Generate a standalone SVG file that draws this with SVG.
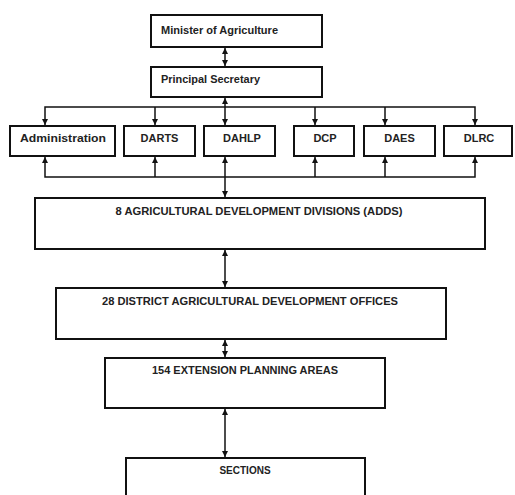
<svg xmlns="http://www.w3.org/2000/svg" width="515" height="495" viewBox="0 0 515 495">
<defs>
<marker id="ah" viewBox="0 0 10 10" refX="10" refY="5" markerWidth="6" markerHeight="6" markerUnits="userSpaceOnUse" orient="auto-start-reverse">
<path d="M0,0 L10,5 L0,10 z" fill="#111"/>
</marker>
<style>
.box{fill:#fff;stroke:#111;stroke-width:2}
.t{font-family:"Liberation Sans",Arial,sans-serif;font-weight:bold;font-size:10px;fill:#222}
.s{font-size:11px}
.c{text-anchor:middle}
.ln{fill:none;stroke:#111;stroke-width:1.5}
</style>
</defs>
<rect width="515" height="495" fill="#fff"/>
<g id="connectors">
<line class="ln" x1="225" y1="48" x2="225" y2="66" marker-start="url(#ah)" marker-end="url(#ah)"/>
<line class="ln" x1="225" y1="98" x2="225" y2="107" marker-start="url(#ah)"/>
<polyline class="ln" points="45,125 45,107 475,107 475,125" marker-start="url(#ah)" marker-end="url(#ah)"/>
<line class="ln" x1="155" y1="107" x2="155" y2="125" marker-end="url(#ah)"/>
<line class="ln" x1="225" y1="107" x2="225" y2="125" marker-end="url(#ah)"/>
<line class="ln" x1="315" y1="107" x2="315" y2="125" marker-end="url(#ah)"/>
<line class="ln" x1="385" y1="107" x2="385" y2="125" marker-end="url(#ah)"/>
<polyline class="ln" points="45,157 45,177 475,177 475,157" marker-start="url(#ah)" marker-end="url(#ah)"/>
<line class="ln" x1="155" y1="177" x2="155" y2="157" marker-end="url(#ah)"/>
<line class="ln" x1="315" y1="177" x2="315" y2="157" marker-end="url(#ah)"/>
<line class="ln" x1="385" y1="177" x2="385" y2="157" marker-end="url(#ah)"/>
<line class="ln" x1="225" y1="157" x2="225" y2="197" marker-start="url(#ah)" marker-end="url(#ah)"/>
<line class="ln" x1="225" y1="250" x2="225" y2="287" marker-start="url(#ah)" marker-end="url(#ah)"/>
<line class="ln" x1="225" y1="340" x2="225" y2="357" marker-start="url(#ah)" marker-end="url(#ah)"/>
<line class="ln" x1="225" y1="409" x2="225" y2="457" marker-start="url(#ah)" marker-end="url(#ah)"/>
</g>
<g id="minister"><rect class="box" x="151" y="15" width="171" height="32"/><text class="t s" x="161" y="34" textLength="117" lengthAdjust="spacingAndGlyphs">Minister of Agriculture</text></g>
<g id="principal"><rect class="box" x="151" y="67" width="171" height="30"/><text class="t s" x="161" y="83" textLength="99" lengthAdjust="spacingAndGlyphs">Principal Secretary</text></g>
<g id="administration"><rect class="box" x="10" y="126" width="105" height="30"/><text class="t s c" x="63" y="142" textLength="86" lengthAdjust="spacingAndGlyphs">Administration</text></g>
<g id="darts"><rect class="box" x="124" y="126" width="71" height="30"/><text class="t s c" x="159.5" y="142">DARTS</text></g>
<g id="dahlp"><rect class="box" x="204" y="126" width="71" height="30"/><text class="t s c" x="242" y="142">DAHLP</text></g>
<g id="dcp"><rect class="box" x="294" y="126" width="60" height="30"/><text class="t s c" x="325" y="142">DCP</text></g>
<g id="daes"><rect class="box" x="364" y="126" width="71" height="30"/><text class="t s c" x="399.5" y="142">DAES</text></g>
<g id="dlrc"><rect class="box" x="444" y="126" width="68" height="30"/><text class="t s c" x="479" y="142">DLRC</text></g>
<g id="adds"><rect class="box" x="35" y="198" width="450" height="51"/><text class="t c" x="259" y="215" textLength="287" lengthAdjust="spacingAndGlyphs">8 AGRICULTURAL DEVELOPMENT DIVISIONS (ADDS)</text></g>
<g id="dado"><rect class="box" x="56" y="288" width="390" height="51"/><text class="t c" x="250" y="305" textLength="296" lengthAdjust="spacingAndGlyphs">28 DISTRICT AGRICULTURAL DEVELOPMENT OFFICES</text></g>
<g id="epa"><rect class="box" x="105" y="358" width="280" height="50"/><text class="t c" x="245" y="374" textLength="186" lengthAdjust="spacingAndGlyphs">154 EXTENSION PLANNING AREAS</text></g>
<g id="sections"><rect class="box" x="126" y="458" width="239" height="50"/><text class="t c" x="245" y="474">SECTIONS</text></g>
</svg>
